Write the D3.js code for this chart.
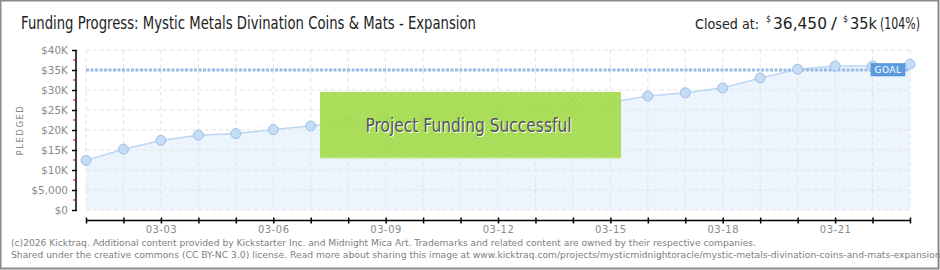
<!DOCTYPE html>
<html>
<head>
<meta charset="utf-8">
<title>Funding Progress</title>
<script src="https://d3js.org/d3.v7.min.js"></script>
<style>
  body { margin: 0; background: #fff; }
  text { font-family: "DejaVu Sans", Verdana, sans-serif; }
</style>
</head>
<body>
<div id="chart"></div>
<script>
// data
var days = ["03-01","03-02","03-03","03-04","03-05","03-06","03-07","03-08","03-09","03-10","03-11","03-12",
            "03-13","03-14","03-15","03-16","03-17","03-18","03-19","03-20","03-21","03-22","03-23"]
var pledged = [12400, 15200, 17400, 18700, 19100, 20100, 21000, 22100, 22600, 23200, 23400, 24500,
               25700, 26500, 26900, 28500, 29300, 30500, 33000, 35200, 36000, 36000, 36450]
var goal = 35000
var yTicks = [0, 5000, 10000, 15000, 20000, 25000, 30000, 35000, 40000]
var yLabels = ["$0", "$5,000", "$10K", "$15K", "$20K", "$25K", "$30K", "$35K", "$40K"]
var xLabelEvery = 3

var width = 940, height = 270
var svg = d3.select("#chart").append("svg")
    .attr("width", width).attr("height", height)

// frame
svg.append("rect").attr("x", 0.5).attr("y", 0.5).attr("width", 938).attr("height", 268)
    .attr("fill", "#fff").attr("stroke", "#8a8a8a").attr("stroke-width", 2)

var x = d3.scalePoint().domain(days).range([86, 910])
var y = d3.scaleLinear().domain([0, 40000]).range([210, 50])

// stripes for the success box
var defs = svg.append("defs")
var pat = defs.append("pattern").attr("id", "stripes").attr("patternUnits", "userSpaceOnUse")
    .attr("width", 4).attr("height", 4).attr("patternTransform", "rotate(45)")
pat.append("rect").attr("width", 4).attr("height", 4).attr("fill", "#a3da4b")
pat.append("rect").attr("width", 2).attr("height", 4).attr("fill", "#a9de55")

// grid
var grid = svg.append("g")
grid.selectAll(".v").data(days).enter().append("line")
    .attr("x1", d => x(d)).attr("x2", d => x(d)).attr("y1", y(40000)).attr("y2", y(0))
    .attr("stroke", "#e3e3e3").attr("stroke-dasharray", "4,3")
grid.selectAll(".h").data(yTicks).enter().append("line")
    .attr("x1", x(days[0])).attr("x2", x(days[days.length-1])).attr("y1", d => y(d)).attr("y2", d => y(d))
    .attr("stroke", "#e3e3e3").attr("stroke-dasharray", "4,3")

// area + line
var area = d3.area().x((d, i) => x(days[i])).y0(y(0)).y1(d => y(d))
svg.append("path").datum(pledged).attr("d", area).attr("fill", "#eaf3fd").attr("fill-opacity", 0.9)
grid.raise()
var line = d3.line().x((d, i) => x(days[i])).y(d => y(d))
svg.append("path").datum(pledged).attr("d", line).attr("fill", "none")
    .attr("stroke", "#bcd6f3").attr("stroke-width", 1.5)

// goal line
svg.append("line").attr("x1", x(days[0])).attr("x2", x(days[days.length-1]))
    .attr("y1", y(goal)).attr("y2", y(goal))
    .attr("stroke", "#98bce6").attr("stroke-width", 3).attr("stroke-dasharray", "3,1.5")

// points
svg.selectAll(".pt").data(pledged).enter().append("circle")
    .attr("cx", (d, i) => x(days[i])).attr("cy", d => y(d)).attr("r", 5)
    .attr("fill", "#c4dcf6").attr("stroke", "#9fbfe6").attr("stroke-width", 1)

// goal tag
svg.append("rect").attr("x", 871).attr("y", 63.5).attr("width", 34).attr("height", 12.5)
    .attr("fill", "#5c9ade").attr("stroke", "#4a86cc").attr("stroke-width", 0.5)
svg.append("text").attr("x", 888).attr("y", 73).attr("text-anchor", "middle")
    .attr("font-size", 9).attr("fill", "#fff").attr("letter-spacing", 0.5).text("GOAL")

// y axis
var yAxis = svg.append("g").attr("transform", "translate(76,0)")
    .call(d3.axisLeft(y).tickValues(yTicks).tickSize(4).tickFormat((d, i) => yLabels[i]))
yAxis.select(".domain").attr("stroke", "#000").attr("stroke-width", 1.5).attr("d", "M0," + y(40000) + "V" + y(0))
yAxis.selectAll(".tick line").attr("stroke", "#000").attr("stroke-width", 1.5).attr("x2", -4).attr("x1", 1)
yAxis.selectAll(".tick text").attr("font-size", 10.5).attr("fill", "#8a8a8a").attr("x", -8)
    .attr("font-family", "'DejaVu Sans Condensed', sans-serif")
var minor = d3.range(2500, 40000, 5000)
svg.selectAll(".minor").data(minor).enter().append("line")
    .attr("x1", 73).attr("x2", 76).attr("y1", d => y(d)).attr("y2", d => y(d))
    .attr("stroke", "#e00000").attr("stroke-width", 1)

svg.append("text").attr("transform", "translate(23,130) rotate(-90)")
    .attr("text-anchor", "middle").attr("font-size", 8.5).attr("fill", "#8a8a8a")
    .attr("letter-spacing", 1.5).text("PLEDGED")

// x axis
var xAxis = svg.append("g").attr("transform", "translate(0,220.5)")
    .call(d3.axisBottom(x).tickSize(3).tickFormat((d, i) => (i % xLabelEvery == 2) ? d : ""))
xAxis.select(".domain").attr("stroke", "#000").attr("stroke-width", 1.5).attr("d", "M" + x(days[0]) + ",0H" + x(days[days.length-1]))
xAxis.selectAll(".tick line").attr("stroke", "#000").attr("stroke-width", 1.5).attr("y1", -3).attr("y2", 3)
xAxis.selectAll(".tick text").attr("font-size", 10).attr("fill", "#8a8a8a").attr("y", 5)
    .attr("font-family", "'DejaVu Sans Condensed', sans-serif").attr("letter-spacing", 0.5)

// success box
svg.append("rect").attr("x", 320).attr("y", 92).attr("width", 301).attr("height", 66)
    .attr("fill", "url(#stripes)").attr("opacity", 0.94)
svg.append("line").attr("x1", 320).attr("x2", 621).attr("y1", 158).attr("y2", 158)
    .attr("stroke", "#cfe79f").attr("stroke-width", 1.5)
svg.append("text").attr("x", 469.5).attr("y", 133).attr("text-anchor", "middle")
    .attr("font-family", "'DejaVu Sans Condensed', sans-serif")
    .attr("font-size", 19).attr("fill", "#fff").attr("textLength", 206).attr("lengthAdjust", "spacingAndGlyphs")
    .text("Project Funding Successful")
svg.append("text").attr("x", 468.5).attr("y", 132).attr("text-anchor", "middle")
    .attr("font-family", "'DejaVu Sans Condensed', sans-serif")
    .attr("font-size", 19).attr("fill", "#555").attr("textLength", 206).attr("lengthAdjust", "spacingAndGlyphs")
    .text("Project Funding Successful")

// title
var head = svg.append("g").attr("font-family", "'DejaVu Sans Condensed', sans-serif").attr("fill", "#222")
head.append("text").attr("x", 21).attr("y", 29)
    .attr("font-size", 17).attr("textLength", 455).attr("lengthAdjust", "spacingAndGlyphs")
    .text("Funding Progress: Mystic Metals Divination Coins & Mats - Expansion")

// closed-at pieces: [text, x, width, superscript, size]
var closedParts = [["Closed at:", 695, 64, false, 14.5], ["$", 766, 5, true, 9], ["36,450", 773, 54, false, 15.5],
                   ["/", 831, 6, false, 15.5], ["$", 843, 5, true, 9], ["35k", 850, 27, false, 15.5],
                   ["(104%)", 880, 40, false, 15.5]]
head.selectAll(".closed").data(closedParts).enter().append("text")
    .attr("x", d => d[1]).attr("y", d => d[3] ? 22 : 29)
    .attr("font-size", d => d[4])
    .attr("textLength", d => d[2]).attr("lengthAdjust", "spacingAndGlyphs")
    .text(d => d[0])

// footer
var foot = svg.append("g").attr("font-size", 9.2).attr("fill", "#808080")
foot.append("text").attr("x", 11).attr("y", 246)
    .attr("textLength", 745).attr("lengthAdjust", "spacingAndGlyphs")
    .text("(c)2026 Kicktraq. Additional content provided by Kickstarter Inc. and Midnight Mica Art. Trademarks and related content are owned by their respective companies.")
foot.append("text").attr("x", 11).attr("y", 257.5)
    .text("Shared under the creative commons (CC BY-NC 3.0) license. Read more about sharing this image at www.kicktraq.com/projects/mysticmidnightoracle/mystic-metals-divination-coins-and-mats-expansion/")
</script>
</body>
</html>
